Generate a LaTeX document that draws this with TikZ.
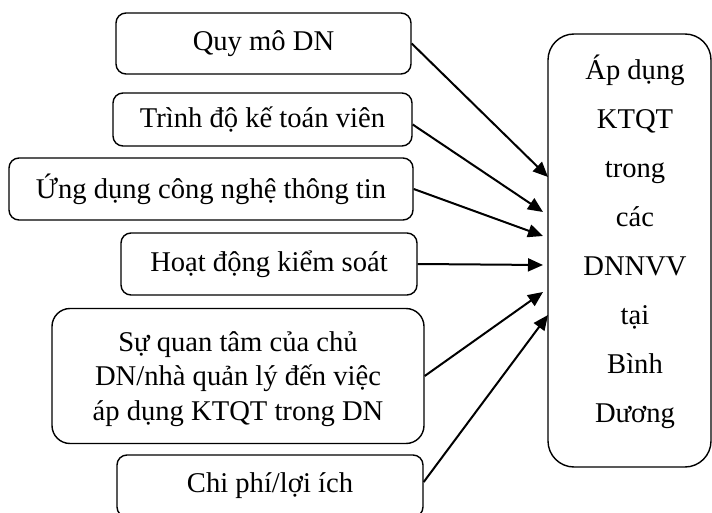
\documentclass[tikz,border=0pt]{standalone}
\usepackage{fontspec}
\setmainfont{Liberation Serif}
\usetikzlibrary{arrows.meta}
\begin{document}
\begin{tikzpicture}[x=1pt,y=-1pt,
  factor/.style={draw=black, line width=1.4pt, rounded corners=10pt, inner sep=0pt,
    font=\fontsize{28.6}{34.5}\selectfont, align=center},
  target/.style={draw=black, line width=1.4pt, rounded corners=26pt, inner sep=0pt},
  link/.style={line width=2pt, -{Triangle[length=15pt,width=13pt]}}]
\clip (0,0) rectangle (712,513);
\fill[white] (0,0) rectangle (712,513);
\node[factor, minimum width=295pt, minimum height=61pt] (b1) at (263.5,43.5) {Quy mô DN};
\node[factor, minimum width=299pt, minimum height=53pt] (b2) at (262.5,119.5) {Trình độ kế toán viên};
\node[factor, minimum width=404pt, minimum height=62pt] (b3) at (211,189) {Ứng dụng công nghệ thông tin};
\node[factor, minimum width=296pt, minimum height=62pt] (b4) at (269,264) {Hoạt động kiểm soát};
\node[factor, rounded corners=18pt, minimum width=372pt, minimum height=135pt] (b5) at (238,376) {};
\node[font=\fontsize{28.6}{34.5}\selectfont, align=center, inner sep=0pt] (b5t) at (238,379) {Sự quan tâm của chủ\\DN/nhà quản lý đến việc\\áp dụng KTQT trong DN};
\node[factor, minimum width=306pt, minimum height=62pt] (b6) at (270,486) {Chi phí/lợi ích};
\node[target, minimum width=163pt, minimum height=433pt] (r) at (629.5,250.5) {};
\node[font=\fontsize{28.6}{49}\selectfont, align=center, inner sep=0pt] (rt) at (635,242)
  {Áp dụng\\KTQT\\trong\\các\\DNNVV\\tại\\Bình\\Dương};
\coordinate (t1) at (548,177);
\coordinate (t2) at (543,212);
\coordinate (t3) at (543,236);
\coordinate (t4) at (543,265);
\coordinate (t5) at (543,292);
\coordinate (t6) at (548,315);
\draw[link] (b1.east) -- (t1);
\draw[link] ([yshift=-5pt]b2.east) -- (t2);
\draw[link] (b3.east) -- (t3);
\draw[link] (b4.east) -- (t4);
\draw[link] (b5.east) -- (t5);
\draw[link] ([yshift=4pt]b6.west -| b6.east) -- (t6);
\end{tikzpicture}
\end{document}
